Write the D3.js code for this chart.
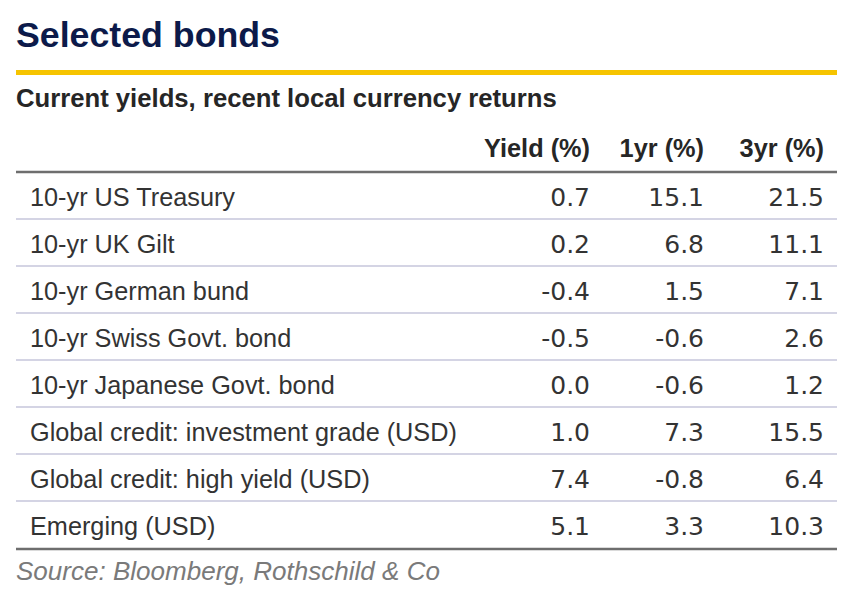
<!DOCTYPE html>
<html>
<head>
<meta charset="utf-8">
<script src="https://cdn.jsdelivr.net/npm/d3@7"></script>
<style>
  body { margin: 0; background: #fff; }
  text { font-family: "Liberation Sans", Arial, sans-serif; }
</style>
</head>
<body>
<script>
// table content
const bonds = [
  "10-yr US Treasury",
  "10-yr UK Gilt",
  "10-yr German bund",
  "10-yr Swiss Govt. bond",
  "10-yr Japanese Govt. bond",
  "Global credit: investment grade (USD)",
  "Global credit: high yield (USD)",
  "Emerging (USD)"
];
const columns = ["Yield (%)", "1yr (%)", "3yr (%)"];
const yieldPct = [0.7, 0.2, -0.4, -0.5, 0.0, 1.0, 7.4, 5.1];
const ret1yr = [15.1, 6.8, 1.5, -0.6, -0.6, 7.3, -0.8, 3.3];
const ret3yr = [21.5, 11.1, 7.1, 2.6, 1.2, 15.5, 6.4, 10.3];

const title = "Selected bonds";
const subtitle = "Current yields, recent local currency returns";
const source = "Source: Bloomberg, Rothschild & Co";

const W = 864, H = 613;
const left = 16, right = 837;

const svg = d3.select("body")
  .append("svg")
  .attr("width", W)
  .attr("height", H);

// shrink/grow font so text spans a given width
function fit(sel, target) {
  const node = sel.node();
  const fs = parseFloat(sel.attr("font-size"));
  const w = node.getComputedTextLength();
  sel.attr("font-size", (fs * target / w).toFixed(2));
}

svg.append("text")
  .attr("x", left).attr("y", 47)
  .attr("font-size", 34)
  .attr("font-weight", "bold")
  .attr("fill", "#0c1a4a")
  .text(title)
  .call(fit, 264);

svg.append("rect")
  .attr("x", left).attr("y", 70)
  .attr("width", right - left).attr("height", 5)
  .attr("fill", "#f6c400");

svg.append("text")
  .attr("x", left).attr("y", 107)
  .attr("font-size", 21)
  .attr("font-weight", "bold")
  .attr("fill", "#262626")
  .text(subtitle)
  .call(fit, 541);

// rows
const y = d3.scaleBand()
  .domain(bonds)
  .range([172, 548]);

const x = d3.scaleOrdinal()
  .domain(columns)
  .range([590, 704, 824]);

const values = [yieldPct, ret1yr, ret3yr];

// header
const head = svg.append("g");
columns.forEach(c => {
  head.append("text")
    .attr("x", x(c)).attr("y", 157)
    .attr("text-anchor", "end")
    .attr("font-size", 22)
    .attr("font-weight", "bold")
    .attr("fill", "#262626")
    .text(c);
});
fit(head.select("text"), 106);
head.selectAll("text").attr("font-size", head.select("text").attr("font-size"));

// row separators
svg.selectAll(".sep")
  .data(bonds.slice(1))
  .join("line")
  .attr("class", "sep")
  .attr("x1", left).attr("x2", right)
  .attr("y1", d => y(d)).attr("y2", d => y(d))
  .attr("stroke", "#d4d4e4")
  .attr("stroke-width", 2);

svg.append("line")
  .attr("x1", left).attr("x2", right)
  .attr("y1", y.range()[0]).attr("y2", y.range()[0])
  .attr("stroke", "#6e6e6e").attr("stroke-width", 2.5);

svg.append("line")
  .attr("x1", left).attr("x2", right)
  .attr("y1", y.range()[1] + 1).attr("y2", y.range()[1] + 1)
  .attr("stroke", "#6e6e6e").attr("stroke-width", 2.5);

const labels = svg.selectAll(".label")
  .data(bonds)
  .join("text")
  .attr("class", "label")
  .attr("x", 30)
  .attr("y", d => y(d) + 34)
  .attr("font-size", 22)
  .attr("fill", "#333")
  .text(d => d);

// size by the longest label
const longest = labels.filter((d, i) => i === 5);
fit(longest, 427);
labels.attr("font-size", longest.attr("font-size"));

const fmt = v => v.toFixed(1);
columns.forEach((c, ci) => {
  svg.selectAll(".v" + ci)
    .data(bonds)
    .join("text")
    .attr("class", "v" + ci)
    .attr("x", x(c))
    .attr("y", d => y(d) + 34)
    .attr("text-anchor", "end")
    .style("font-family", "'DejaVu Sans', Verdana, sans-serif")
    .attr("font-size", 25)
    .attr("fill", "#333")
    .text((d, i) => fmt(values[ci][i]));
});

svg.append("text")
  .attr("x", left).attr("y", 580)
  .attr("font-size", 21)
  .attr("font-style", "italic")
  .attr("fill", "#7a7a7a")
  .text(source)
  .call(fit, 424);
</script>
</body>
</html>
